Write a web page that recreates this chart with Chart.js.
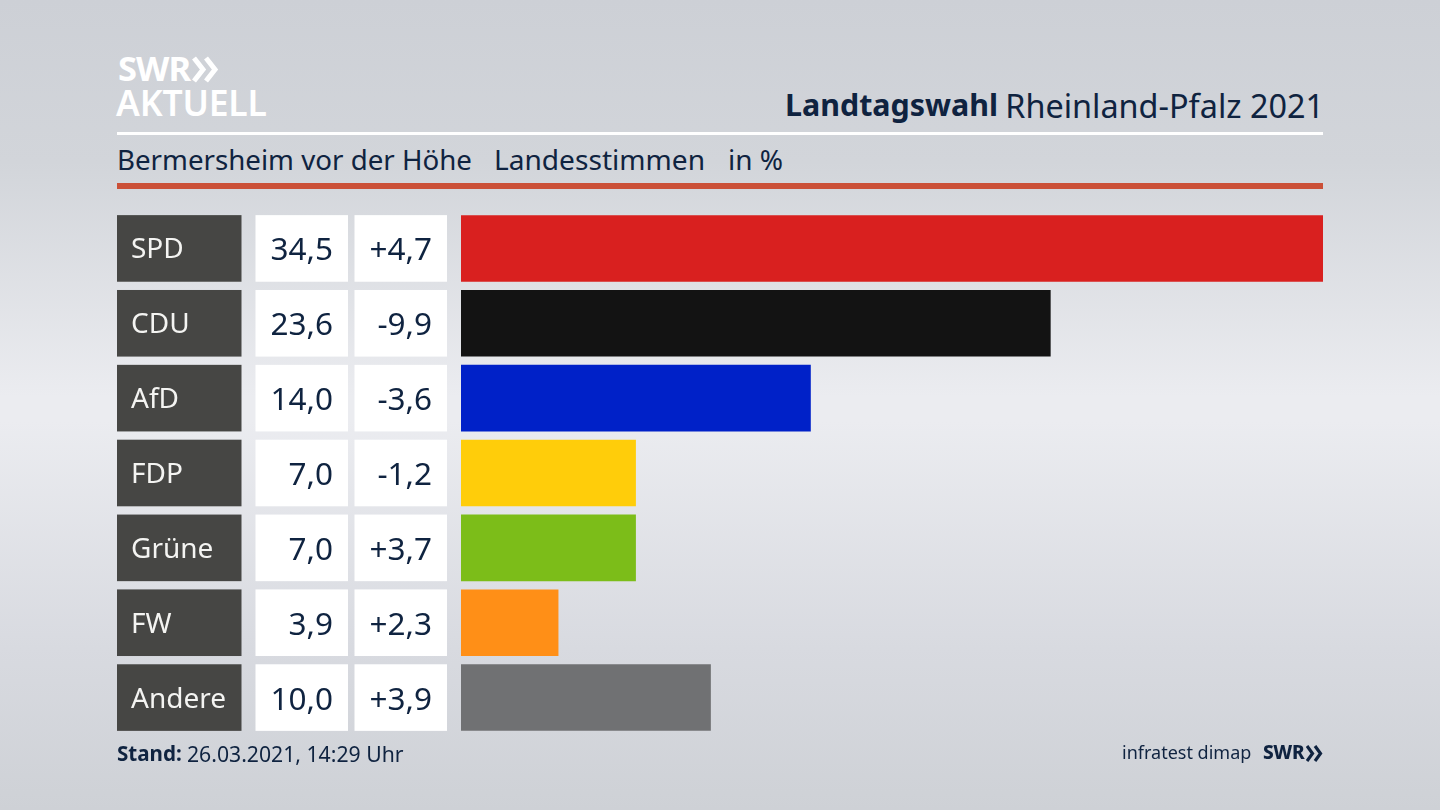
<!DOCTYPE html>
<html lang="de">
<head>
<meta charset="utf-8">
<title>Landtagswahl Rheinland-Pfalz 2021</title>
<script src="https://cdn.jsdelivr.net/npm/chart.js@4/dist/chart.umd.min.js"></script>
<style>
html,body{margin:0;padding:0;width:1440px;height:810px;overflow:hidden}
body{position:relative;font-family:"Noto Sans",sans-serif;color:#0f2340;
background:linear-gradient(180deg,#cdd0d6 0%,#d2d5da 20%,#ebecf0 49%,#ebecf0 52%,#d8dae0 80%,#ced1d6 100%)}
canvas{position:absolute;left:0;top:0}
.t{position:absolute;white-space:pre;line-height:1}
.rule{position:absolute;left:117px;width:1206px}
</style>
</head>
<body>
<div class="t" style="left:118px;top:51px;font-size:34.5px;font-weight:700;color:#fff;letter-spacing:-.9px">SWR</div>
<svg style="position:absolute;left:192px;top:56px" width="28" height="27" viewBox="0 0 28 27"><path d="M2 2L11 13.5L2 25M14 2L23 13.5L14 25" fill="none" stroke="#fff" stroke-width="5"/></svg>
<div class="t" style="left:116px;top:85px;font-size:35.5px;font-weight:600;color:#fff;letter-spacing:-.2px">AKTUELL</div>
<div class="t" style="left:785px;top:90px;font-size:30.4px;font-weight:700">Landtagswahl</div>
<div class="t" style="right:116px;top:89px;font-size:32.4px">Rheinland-Pfalz 2021</div>
<div class="rule" style="top:132px;height:3px;background:#fff"></div>
<div class="t" style="left:117px;top:146px;font-size:27.7px">Bermersheim vor der Höhe</div>
<div class="t" style="left:494px;top:145px;font-size:28.1px">Landesstimmen</div>
<div class="t" style="left:728px;top:145px;font-size:28px">in %</div>
<div class="rule" style="top:183px;height:6px;background:#cb5038"></div>
<canvas id="c" width="1440" height="810"></canvas>
<div class="t" style="left:117px;top:743px;font-size:20.6px"><span style="font-weight:700">Stand:</span></div>
<div class="t" style="left:187px;top:743px;font-size:21.2px">26.03.2021, 14:29 Uhr</div>
<div class="t" style="left:1122px;top:743px;font-size:18px">infratest dimap</div>
<div class="t" style="left:1263px;top:743px;font-size:19px;font-weight:800;letter-spacing:-.4px">SWR</div>
<svg style="position:absolute;left:1306px;top:745px" width="18" height="17" viewBox="0 0 18 17"><path d="M1 1L6.5 8.5L1 16M9 1L14.5 8.5L9 16" fill="none" stroke="#0f2340" stroke-width="3.2"/></svg>
<script>
const parties = ["SPD","CDU","AfD","FDP","Grüne","FW","Andere"];
const shares = [34.5,23.6,14.0,7.0,7.0,3.9,10.0];
const changes = ["+4,7","-9,9","-3,6","-1,2","+3,7","+2,3","+3,9"];
const barColors = ["#d9201f","#131313","#0021c8","#ffcd0a","#7cbd19","#ff8f17","#707173"];
const shareLabels = shares.map(v => v.toFixed(1).replace(".",","));
const tablePlugin = {
  id:"table",
  afterDatasetsDraw(chart){
    const {ctx,scales:{y}} = chart;
    const h = 66.6;
    ctx.save();
    ctx.textBaseline = "middle";
    parties.forEach((p,i)=>{
      const cy = y.getPixelForValue(i), top = cy-h/2;
      ctx.fillStyle = "#464644"; ctx.fillRect(117,top,124.5,h);
      ctx.fillStyle = "#fff"; ctx.fillRect(255.5,top,92.5,h); ctx.fillRect(354.5,top,92.5,h);
      ctx.textAlign = "left"; ctx.fillStyle = "#f4f4f2";
      ctx.font = '28px "Noto Sans"'; ctx.fillText(p,131,cy+2);
      ctx.textAlign = "right"; ctx.fillStyle = "#0f2340";
      ctx.font = '31.5px "Noto Sans"';
      ctx.fillText(shareLabels[i],333,cy+3);
      ctx.fillText(changes[i],432,cy+3);
    });
    ctx.restore();
  }
};
new Chart(document.getElementById("c"),{
  type:"bar",
  data:{labels:parties,datasets:[{data:shares,backgroundColor:barColors,borderWidth:0,barPercentage:0.889,categoryPercentage:1}]},
  options:{
    indexAxis:"y",responsive:false,animation:false,
    layout:{padding:{left:461,right:117,top:211,bottom:75}},
    plugins:{legend:{display:false},tooltip:{enabled:false}},
    scales:{x:{display:false,min:0,max:34.5},y:{display:false}}
  },
  plugins:[tablePlugin]
});
</script>
</body>
</html>
